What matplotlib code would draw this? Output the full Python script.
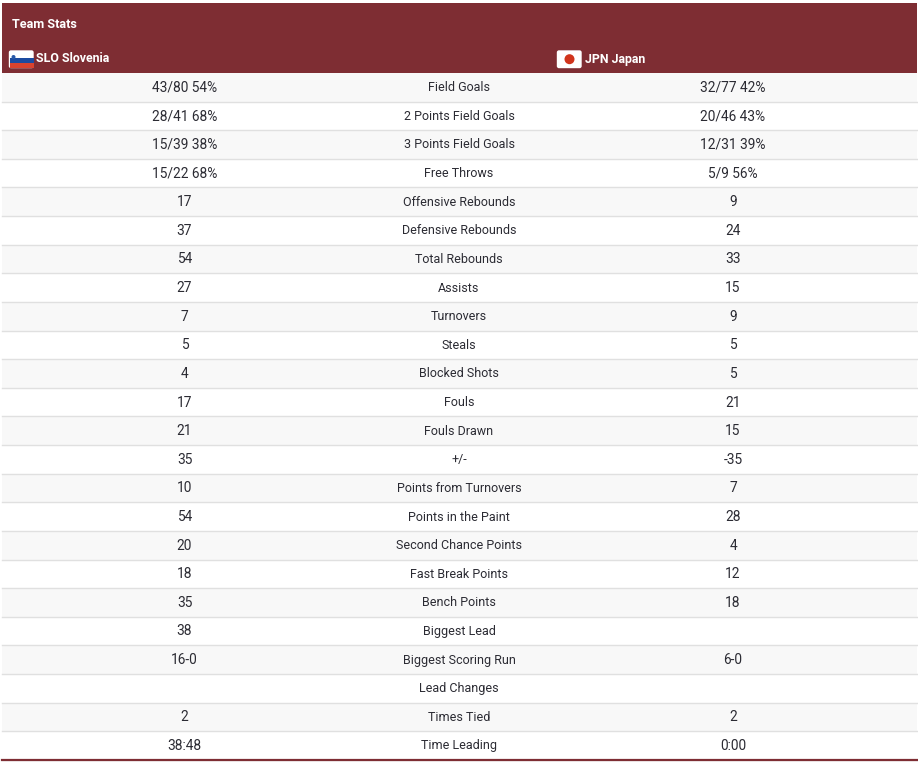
import matplotlib
matplotlib.use("Agg")
import matplotlib.pyplot as plt
from matplotlib.patches import Rectangle, Circle, FancyBboxPatch

title = "Team Stats"
team_left = "SLO Slovenia"
team_right = "JPN Japan"
categories = ["Field Goals", "2 Points Field Goals", "3 Points Field Goals", "Free Throws",
              "Offensive Rebounds", "Defensive Rebounds", "Total Rebounds", "Assists",
              "Turnovers", "Steals", "Blocked Shots", "Fouls", "Fouls Drawn", "+/-",
              "Points from Turnovers", "Points in the Paint", "Second Chance Points",
              "Fast Break Points", "Bench Points", "Biggest Lead", "Biggest Scoring Run",
              "Lead Changes", "Times Tied", "Time Leading"]
slovenia = ["43/80 54%", "28/41 68%", "15/39 38%", "15/22 68%", "17", "37", "54", "27",
            "7", "5", "4", "17", "21", "35", "10", "54", "20", "18", "35", "38", "16-0",
            "", "2", "38:48"]
japan = ["32/77 42%", "20/46 43%", "12/31 39%", "5/9 56%", "9", "24", "33", "15",
         "9", "5", "5", "21", "15", "-35", "7", "28", "4", "12", "18", "", "6-0",
         "", "2", "0:00"]

MAROON = "#7e2d33"
TXT = "#2b2b33"
plt.rcParams["font.family"] = ["Roboto", "DejaVu Sans"]

fig = plt.figure(figsize=(9.18, 7.63), dpi=100, facecolor="white")
ax = fig.add_axes([0, 0, 1, 1])
ax.set_xlim(0, 918)
ax.set_ylim(763, 0)
ax.axis("off")

L, R = 2, 917
top_rows, rh = 73, 28.62
ax.add_patch(Rectangle((L, 3), R - L, top_rows - 3, fc=MAROON, ec="none"))
ax.text(12, 24, title, color="white", fontsize=9.1, fontweight="bold", va="center")
ax.text(36, 59, team_left, color="white", fontsize=8.9, fontweight="bold", va="center")
ax.text(585, 59, team_right, color="white", fontsize=8.9, fontweight="bold", va="center")

def flag_base(x):
    ax.add_patch(FancyBboxPatch((x + 1, 51), 23.5, 16.5, boxstyle="round,pad=0,rounding_size=1.5",
                                fc="white", ec="white", lw=1))

# Slovenia flag
flag_base(8.5)
ax.add_patch(Rectangle((9.5, 57.5), 24, 5.2, fc="#1c4ba0", ec="none"))
ax.add_patch(Rectangle((9.5, 62.7), 24, 4.8, fc="#d9432f", ec="none"))
ax.add_patch(Circle((13.5, 57), 2, fc="#2a5aa8", ec="none"))
# Japan flag
flag_base(556.5)
ax.add_patch(Circle((569.5, 59.2), 5, fc="#d0341c", ec="none"))

for i, (c, a, b) in enumerate(zip(categories, slovenia, japan)):
    y0 = top_rows + i * rh
    ax.add_patch(Rectangle((L, y0), R - L, rh, fc="#f8f8f8" if i % 2 == 0 else "white", ec="none"))
    ax.plot([L, R], [y0 + rh, y0 + rh], color="#e0e0e0", lw=1)
    yc = y0 + rh / 2 + 0.4
    ax.text(184.5, yc, a, color=TXT, fontsize=9.9, ha="center", va="center")
    ax.text(459, yc, c, color=TXT, fontsize=9.0, ha="center", va="center")
    ax.text(733, yc, b, color=TXT, fontsize=9.9, ha="center", va="center")
ax.plot([L, R], [760, 760], color=MAROON, lw=1.6)

fig.savefig("out.png", dpi=100)
